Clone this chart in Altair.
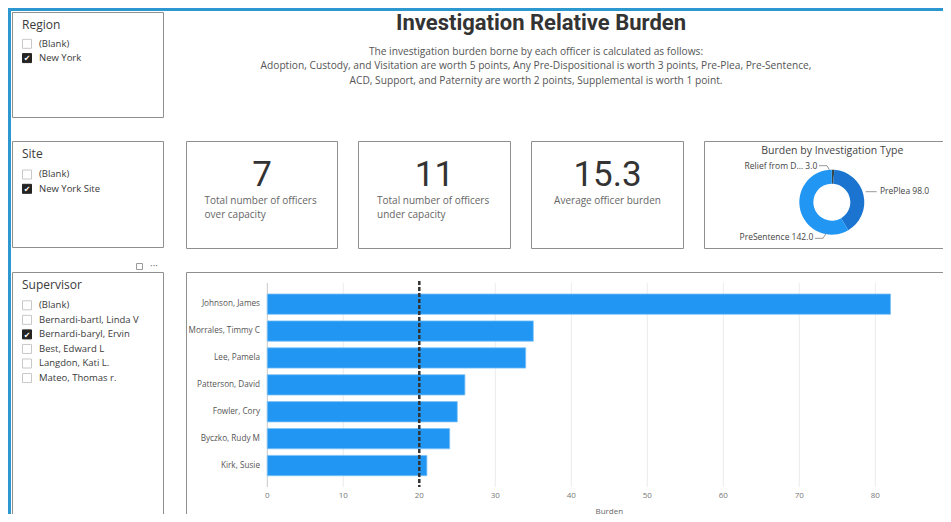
import altair as alt
import pandas as pd

# ---------------- data ----------------
officers = ["Johnson, James", "Morrales, Timmy C", "Lee, Pamela", "Patterson, David",
            "Fowler, Cory", "Byczko, Rudy M", "Kirk, Susie"]
burden = [82, 35, 34, 26, 25, 24, 21]
capacity = [20]
x_ticks = [0, 10, 20, 30, 40, 50, 60, 70, 80, 90]

inv_types = ["Relief from D...", "PrePlea", "PreSentence"]
inv_burden = [3.0, 98.0, 142.0]
inv_colors = ["#374649", "#1B74CF", "#2196F3"]

region_items = ["(Blank)", "New York"]
region_checked = [False, True]
site_items = ["(Blank)", "New York Site"]
site_checked = [False, True]
supervisor_items = ["(Blank)", "Bernardi-bartl, Linda V", "Bernardi-baryl, Ervin",
                    "Best, Edward L", "Langdon, Kati L.", "Mateo, Thomas r."]
supervisor_checked = [False, False, True, False, False, False]

kpi_values = ["7", "11", "15.3"]
kpi_labels = [["Total number of officers", "over capacity"],
              ["Total number of officers", "under capacity"],
              ["Average officer burden"]]

title_text = "Investigation Relative Burden"
subtitle_lines = [
    "The investigation burden borne by each officer is calculated as follows:",
    "Adoption, Custody, and Visitation are worth 5 points, Any Pre-Dispositional is worth 3 points, Pre-Plea, Pre-Sentence,",
    "ACD, Support, and Paternity are worth 2 points, Supplemental is worth 1 point.",
]

# ---------------- layout helpers ----------------
O = 8  # page margin: positions below are page pixels
FONT = "Open Sans"
NUMFONT = "Roboto"
TITLEFONT = "Roboto"
one = pd.DataFrame({"k": [0]})
layers = []


def P(v):
    return v - O


def box(x1, y1, x2, y2, stroke="#8f8f8f", fill="white", sw=1.0):
    return alt.Chart(one).mark_rect(fill=fill, stroke=stroke, strokeWidth=sw).encode(
        x=alt.value(P(x1)), x2=alt.value(P(x2)), y=alt.value(P(y1)), y2=alt.value(P(y2)))


def txt(s, x, y, size, color="#333333", align="left", weight="normal", font=FONT,
        baseline="alphabetic"):
    return alt.Chart(one).mark_text(text=s, align=align, baseline=baseline, fontSize=size,
                                    fontWeight=weight, font=font, color=color).encode(
        x=alt.value(P(x)), y=alt.value(P(y)))


def seg(x1, y1, x2, y2, color="#999999", sw=1.0, dash=None):
    kw = dict(color=color, strokeWidth=sw)
    if dash:
        kw["strokeDash"] = dash
    return alt.Chart(one).mark_rule(**kw).encode(
        x=alt.value(P(x1)), x2=alt.value(P(x2)), y=alt.value(P(y1)), y2=alt.value(P(y2)))


def slicer(title, items, checked, x1, y1, x2, y2, title_base, first_top, step):
    out = [box(x1, y1, x2, y2), txt(title, 22, title_base, 12, "#3a3a3a")]
    for i, (it, ch) in enumerate(zip(items, checked)):
        top = first_top + i * step
        if ch:
            out.append(box(22.5, top, 31.5, top + 9, stroke="#252423", fill="#252423"))
            out.append(txt("\u2714", 27, top + 7.6, 8, "white", align="center",
                           font="DejaVu Sans"))
        else:
            out.append(box(22.5, top, 31.5, top + 9, stroke="#c8c8c8", fill="white"))
        out.append(txt(it, 39, top + 7.2, 9.5, "#3a3a3a"))
    return out


# ---------------- frame ----------------
layers.append(seg(8, 9.5, 951, 9.5, color="#2C98CF", sw=3))
layers.append(seg(9.5, 8, 9.5, 530, color="#2C98CF", sw=3))

# ---------------- slicers ----------------
layers += slicer("Region", region_items, region_checked, 12.5, 12.5, 163.5, 117.5, 28.5, 39.3, 14.3)
layers += slicer("Site", site_items, site_checked, 12.5, 141.5, 163.5, 247.5, 158, 170, 14.3)
layers += slicer("Supervisor", supervisor_items, supervisor_checked, 12.5, 272.5, 163.5, 540,
                 289, 300.8, 14.55)
# header icons of supervisor slicer
layers.append(box(136.5, 263.5, 142.5, 269.5, stroke="#9a9a9a", fill="white"))
layers.append(txt("\u00b7\u00b7\u00b7", 154, 269, 10, "#777777", align="center"))

# ---------------- title ----------------
layers.append(txt(title_text, 541, 30, 22, "#333333", align="center", weight="bold",
                  font=TITLEFONT))
for i, line in enumerate(subtitle_lines):
    layers.append(txt(line, 536, 54.5 + i * 14.5, 10.2, "#555555", align="center"))

# ---------------- KPI cards ----------------
cards = [(186.5, 337.5), (358.5, 510.5), (531.5, 683.5)]
for (cx1, cx2), val, labs in zip(cards, kpi_values, kpi_labels):
    layers.append(box(cx1, 141.5, cx2, 248.5))
    c = (cx1 + cx2) / 2
    layers.append(txt(val, c, 185.5, 35, "#333333", align="center", font=NUMFONT))
    if len(labs) == 1:
        layers.append(txt(labs[0], c, 203.5, 10, "#666666", align="center"))
    else:
        for j, lab in enumerate(labs):
            layers.append(txt(lab, c - 57.5, 203.5 + j * 14, 10, "#666666"))

# ---------------- donut card ----------------
layers.append(box(704.5, 141.5, 980, 248.5))
layers.append(txt("Burden by Investigation Type", 832.3, 154, 10.5, "#444444", align="center"))
donut_df = pd.DataFrame({"type": inv_types, "burden": inv_burden,
                         "ord": list(range(len(inv_types)))})
layers.append(
    alt.Chart(donut_df).mark_arc(outerRadius=32.5, innerRadius=18.5).encode(
        theta=alt.Theta("burden:Q", stack=True),
        color=alt.Color("type:N", scale=alt.Scale(domain=inv_types, range=inv_colors),
                        legend=None),
        order=alt.Order("ord:Q"),
        x=alt.value(P(831.8)), y=alt.value(P(202.2)),
    )
)
lab = {t: f"{t} {v:.1f}" for t, v in zip(inv_types, inv_burden)}
layers.append(txt(lab["Relief from D..."], 817.3, 169, 8.5, "#444444", align="right"))
layers.append(seg(819, 165.7, 827, 165.7))
layers.append(seg(827, 165.7, 829.5, 170))
layers.append(txt(lab["PrePlea"], 880, 194, 8.5, "#444444"))
layers.append(seg(865.7, 191.7, 876.7, 191.7))
layers.append(txt(lab["PreSentence"], 813.3, 240.3, 8.5, "#444444", align="right"))
layers.append(seg(815, 238.3, 823, 238.3))
layers.append(seg(823, 238.3, 826, 233.5))

# ---------------- bar chart card ----------------
layers.append(box(186.5, 272.5, 980, 540))
xscale = alt.Scale(domain=[0, 90], range=[P(267.3), P(951.3)])
yscale = alt.Scale(domain=officers, range=[P(290.7), P(479)], paddingInner=0.245,
                   paddingOuter=0.1225)
ticks_df = pd.DataFrame({"t": x_ticks})
grid_df = pd.DataFrame({"t": x_ticks[1:]})
zero_df = pd.DataFrame({"t": x_ticks[:1]})
bars_df = pd.DataFrame({"name": officers, "burden": burden})
cap_df = pd.DataFrame({"cap": capacity})

layers.append(alt.Chart(grid_df).mark_rule(color="#ececec", strokeWidth=1).encode(
    x=alt.X("t:Q", scale=xscale, axis=None), y=alt.value(P(283)), y2=alt.value(P(487))))
layers.append(alt.Chart(zero_df).mark_rule(color="#c8c8c8", strokeWidth=1).encode(
    x=alt.X("t:Q", scale=xscale, axis=None), y=alt.value(P(283)), y2=alt.value(P(487))))
layers.append(alt.Chart(bars_df).mark_bar(color="#2196F3", stroke="#7cc3f8", strokeWidth=0.8).encode(
    x=alt.X("burden:Q", scale=xscale, axis=None),
    y=alt.Y("name:N", scale=yscale, axis=None),
))
layers.append(alt.Chart(bars_df).mark_text(align="right", baseline="middle", fontSize=8.2,
                                           font=FONT, color="#555555").encode(
    x=alt.value(P(260)), y=alt.Y("name:N", scale=yscale, axis=None), text="name:N"))
layers.append(alt.Chart(cap_df).mark_rule(color="#333333", strokeWidth=2.5,
                                          strokeDash=[4, 2]).encode(
    x=alt.X("cap:Q", scale=xscale, axis=None), y=alt.value(P(281)), y2=alt.value(P(487))))
layers.append(alt.Chart(ticks_df).mark_text(align="center", baseline="alphabetic", fontSize=8,
                                            font=FONT, color="#777777").encode(
    x=alt.X("t:Q", scale=xscale, axis=None), y=alt.value(P(498.3)), text="t:Q"))
layers.append(txt("Burden", 609.3, 513.5, 8, "#666666", align="center"))

chart = alt.layer(*layers).properties(
    width=935, height=506, padding=0, autosize="none", background="white"
).configure_view(stroke=None)

chart.save("out.html", embed_options={"renderer": "svg", "actions": False})
